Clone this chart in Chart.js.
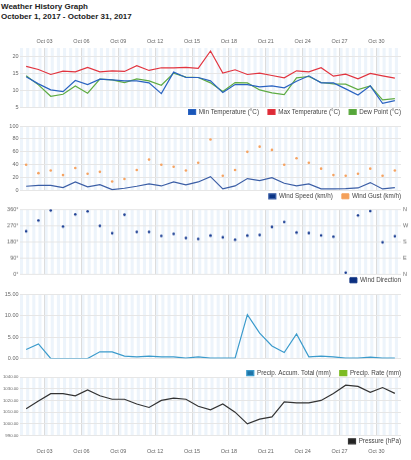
<!DOCTYPE html>
<html>
<head>
<meta charset="utf-8">
<script src="https://cdn.jsdelivr.net/npm/chart.js@4"></script>
<style>
  body { margin: 0; background: #fff; font-family: "Liberation Sans", Arial, sans-serif; }
  .title { position: absolute; left: 1px; top: 1.5px; font-size: 8px; line-height: 10px; font-weight: bold; color: #222; }
  .box { position: absolute; left: 0; width: 411px; }
</style>
</head>
<body>
<div class="title">Weather History Graph<br>October 1, 2017 - October 31, 2017</div>
<div class="box" style="top:34px;height:83px"><canvas id="temp"></canvas></div>
<div class="box" style="top:120.7px;height:80.6px"><canvas id="wind"></canvas></div>
<div class="box" style="top:204.3px;height:80.5px"><canvas id="dir"></canvas></div>
<div class="box" style="top:288.5px;height:89.5px"><canvas id="rain"></canvas></div>
<div class="box" style="top:371.7px;height:84.6px"><canvas id="pres"></canvas></div>
<script>
// October 2017, one value per day
const days = [1, 2, 3, 4, 5, 6, 7, 8, 9, 10, 11, 12, 13, 14, 15, 16,
  17, 18, 19, 20, 21, 22, 23, 24, 25, 26, 27, 28, 29, 30, 31];
const tickDays = [3, 6, 9, 12, 15, 18, 21, 24, 27, 30];
const tickLabels = ["Oct 03", "Oct 06", "Oct 09", "Oct 12", "Oct 15",
  "Oct 18", "Oct 21", "Oct 24", "Oct 27", "Oct 30"];
const dirLabels = ["N", "E", "S", "W", "N"];

const minTemp = [14.0, 11.9, 10.1, 9.6, 12.9, 11.7, 13.3, 13.1, 12.8, 12.8, 12.2,
  9.0, 15.4, 13.8, 13.8, 12.8, 9.3, 11.7, 11.7, 11.0, 11.3, 10.7, 12.7, 14.3,
  12.2, 12.2, 10.4, 8.6, 11.3, 6.1, 6.9];
const maxTemp = [17.1, 16.2, 14.7, 15.7, 15.5, 16.8, 15.5, 15.8, 15.6, 17.3, 15.9,
  16.7, 16.7, 16.8, 16.5, 21.7, 15.1, 16.1, 14.7, 15.1, 14.4, 13.7, 15.8, 15.5,
  16.7, 14.2, 14.8, 13.4, 15.0, 14.3, 13.6];
const dewPoint = [14.3, 11.6, 8.2, 8.8, 11.3, 9.1, 13.3, 13.1, 12.3, 13.4, 12.8,
  11.5, 15.1, 13.9, 13.8, 12.2, 9.6, 12.3, 12.2, 10.1, 9.2, 8.7, 13.7, 14.1,
  12.3, 11.9, 11.8, 10.2, 11.3, 7.1, 7.5];
const windSpeed = [6.7, 8.2, 8.2, 4.6, 13.4, 5.7, 9.3, 1.5, 3.6, 6.7, 10.3, 7.2,
  13.4, 8.8, 13.4, 21.6, 2.6, 7.2, 18.6, 15.5, 20.1, 11.3, 7.2, 10.3, 2.6, 2.6,
  3.1, 4.1, 12.4, 2.6, 4.6];
const windGust = [40, 27, 31, 24, 35, 26, 29, 14, 18, 32, 48, 40, 37, 31, 43, 79,
  23, 32, 60, 68, 63, 40, 50, 43, 34, 24, 23, 26, 34, 23, 31];
const windDir = [238, 298, 354, 264, 332, 349, 268, 227, 330, 234, 234, 212, 223,
  200, 195, 214, 204, 191, 214, 217, 262, 290, 231, 228, 215, 208, 7, 326, 350,
  176, 210];
const precipTotal = [2.1, 3.4, 0, 0, 0, 0, 1.55, 1.55, 0.55, 0.4, 0.55, 0.4, 0.4,
  0.1, 0.4, 0.1, 0.1, 0.1, 10.2, 5.9, 2.9, 1.4, 5.7, 0.4, 0.55, 0.4, 0.1, 0.1,
  0.3, 0.1, 0.1];
const precipRate = [];
const pressure = [1013, 1019.5, 1025.8, 1025.8, 1024, 1029, 1024, 1021, 1021, 1017,
  1014, 1020, 1022, 1021, 1015, 1012, 1017, 1010, 1000, 1004, 1006, 1018.7, 1018,
  1018, 1020, 1026, 1033, 1032, 1027, 1031, 1026];

Chart.defaults.font.family = "'Liberation Sans', Arial, sans-serif";
Chart.defaults.color = "#666";

// points sit at noon of each day, x is days since Oct 1 00:00
const pts = (vals) => vals.map((v, i) => ({ x: days[i] - 0.5, y: v }));

// light blue bands behind the plot
const stripes = {
  id: "stripes",
  beforeDraw(chart) {
    const { ctx, chartArea: a, scales: { x } } = chart;
    ctx.save();
    ctx.fillStyle = "#edf4fb";
    for (let d = 0; d < 31; d += 0.5) {
      const l = x.getPixelForValue(d);
      const r = x.getPixelForValue(d + 0.25);
      ctx.fillRect(l, a.top, r - l, a.bottom - a.top);
    }
    ctx.restore();
  }
};

const LEG_PAD = 9;
const LEG_FONT = 6.3;
// put the legend right under the plot, ending at the right edge
const legendSpot = {
  id: "legendSpot",
  beforeDraw(chart, args, opts) {
    const lg = chart.legend;
    lg.top = chart.chartArea.bottom + opts.gap - LEG_PAD - LEG_FONT / 2;
    lg.bottom = lg.top + 30;
    lg.left = 0;
    lg.right = 401 + LEG_PAD;
  }
};

function xScale(show, position, height, pad) {
  return {
    type: "linear", min: 0, max: 31, position: position,
    afterBuildTicks: (a) => { a.ticks = tickDays.map((d) => ({ value: d - 1 })); },
    afterFit: (s) => { s.height = height; },
    ticks: {
      display: show, autoSkip: false, maxRotation: 0, padding: pad,
      font: { size: 5.5 }, color: "#666",
      callback: (v, i) => tickLabels[i]
    },
    grid: { color: "#dcdcdc", drawTicks: false },
    border: { display: false }
  };
}

function yScale(min, max, step, fmt, size) {
  return {
    min: min, max: max, position: "left",
    afterBuildTicks: (a) => {
      a.ticks = a.ticks.filter((t) => Math.abs((t.value - min) / step - Math.round((t.value - min) / step)) < 1e-6);
    },
    afterFit: (s) => { s.width = 20; },
    ticks: { stepSize: step, padding: 1.5, font: { size: size }, color: "#666", callback: fmt },
    grid: { color: "#e6e6e6", drawTicks: false },
    border: { display: false }
  };
}

function makeChart(id, datasets, scales, gap, padding) {
  return new Chart(document.getElementById(id), {
    type: "line",
    data: { datasets: datasets },
    options: {
      responsive: true,
      maintainAspectRatio: false,
      animation: false,
      events: [],
      layout: { padding: padding },
      scales: scales,
      plugins: {
        tooltip: { enabled: false },
        legendSpot: { gap: gap },
        legend: {
          position: "bottom", align: "end", maxHeight: 1,
          labels: {
            boxWidth: 7, boxHeight: 5, padding: LEG_PAD,
            font: { size: LEG_FONT }, color: "#444"
          }
        }
      }
    },
    plugins: [stripes, legendSpot]
  });
}

function line(label, vals, color, box) {
  return {
    label: label, data: pts(vals), borderColor: color, backgroundColor: box,
    borderWidth: 1.2, pointRadius: 0, tension: 0, fill: false
  };
}

function dots(label, vals, color, box) {
  return {
    label: label, data: pts(vals), showLine: false, borderColor: box, borderWidth: 1,
    backgroundColor: box, pointRadius: 1.3, pointBorderWidth: 0,
    pointBackgroundColor: color
  };
}

makeChart("temp", [
  line("Min Temperature (°C)", minTemp, "#2a63c1", "#1a56b8"),
  line("Max Temperature (°C)", maxTemp, "#e2343f", "#dd2a36"),
  line("Dew Point (°C)", dewPoint, "#5eab42", "#55a63a")
], {
  x: xScale(true, "top", 14, 3),
  y: yScale(5, 22.6, 5, (v) => v, 5.5)
}, 5, { top: 0, bottom: 9, left: 0, right: 10 });

makeChart("wind", [
  line("Wind Speed (km/h)", windSpeed, "#3b5ea6", "#0b3485"),
  dots("Wind Gust (km/h)", windGust, "#f5a362", "#f4a05a")
], {
  x: xScale(false, "bottom", 0, 0),
  y: yScale(0, 100, 20, (v) => v, 5.5)
}, 5.7, { top: 5, bottom: 10, left: 0, right: 10 });

const dirChartScales = {
  x: xScale(false, "bottom", 0, 0),
  y: yScale(0, 360, 90, (v) => v + "°", 5.5),
  y2: {
    min: 0, max: 360, position: "right",
    afterFit: (s) => { s.width = 10; },
    ticks: { stepSize: 90, padding: 2, font: { size: 5.5 }, color: "#666", callback: (v, i) => dirLabels[i] },
    grid: { display: false, drawTicks: false },
    border: { display: false }
  }
};
makeChart("dir", [
  dots("Wind Direction", windDir, "#1c3f94", "#0b2f80")
], dirChartScales, 6.3, { top: 5, bottom: 10.5, left: 0, right: 0 });

makeChart("rain", [
  line("Precip. Accum. Total (mm)", precipTotal, "#3b9bcc", "#1f73a6"),
  line("Precip. Rate (mm)", precipRate, "#7dbb22", "#7dbb22")
], {
  x: xScale(false, "bottom", 0, 0),
  y: yScale(0, 15, 5, (v) => v.toFixed(2), 5.5)
}, 14.7, { top: 5, bottom: 19, left: 0, right: 10 });

makeChart("pres", [
  line("Pressure (hPa)", pressure, "#333333", "#222222")
], {
  x: xScale(true, "bottom", 20, 12.4),
  y: yScale(990, 1040, 10, (v) => v.toFixed(2), 4.3)
}, 5.7, { top: 5, bottom: 0, left: 0, right: 10 });
</script>
</body>
</html>
